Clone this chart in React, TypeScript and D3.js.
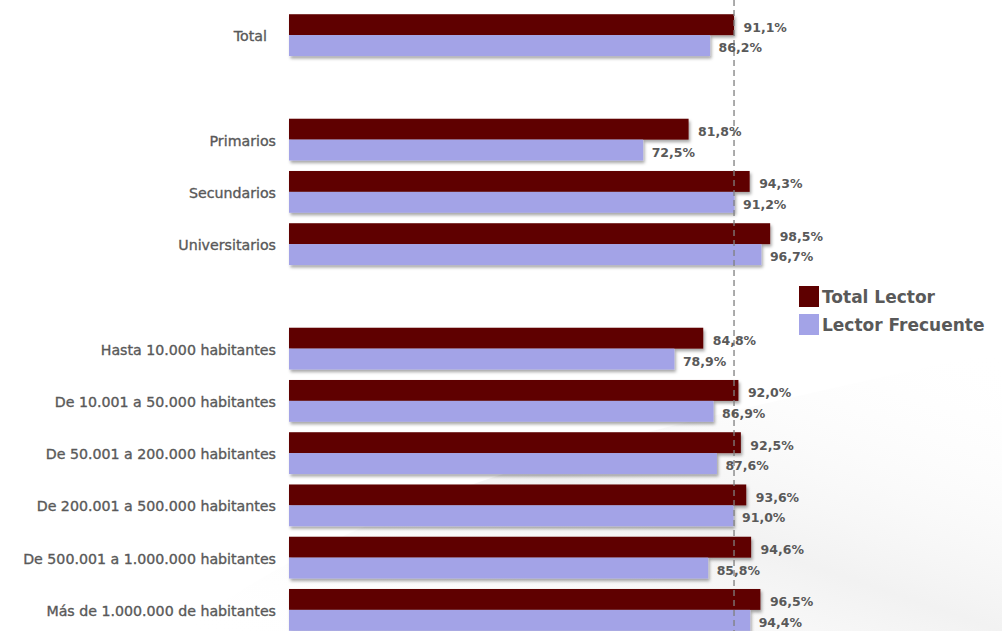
import * as React from "react";
import { scaleBand, scaleLinear } from "d3";

const categories = [
  "Total",
  "Primarios",
  "Secundarios",
  "Universitarios",
  "Hasta 10.000 habitantes",
  "De 10.001 a 50.000 habitantes",
  "De 50.001 a 200.000 habitantes",
  "De 200.001 a 500.000 habitantes",
  "De 500.001 a 1.000.000 habitantes",
  "Más de 1.000.000 de habitantes",
];
const totalLector = [91.1, 81.8, 94.3, 98.5, 84.8, 92.0, 92.5, 93.6, 94.6, 96.5];
const lectorFrecuente = [86.2, 72.5, 91.2, 96.7, 78.9, 86.9, 87.6, 91.0, 85.8, 94.4];
const seriesNames = ["Total Lector", "Lector Frecuente"];
// row order with empty slots between the groups
const slots = [
  "Total",
  "_gap1",
  "Primarios",
  "Secundarios",
  "Universitarios",
  "_gap2",
  "Hasta 10.000 habitantes",
  "De 10.001 a 50.000 habitantes",
  "De 50.001 a 200.000 habitantes",
  "De 200.001 a 500.000 habitantes",
  "De 500.001 a 1.000.000 habitantes",
  "Más de 1.000.000 de habitantes",
];

const W = 1002;
const H = 631;
const DARK = "#5e0000";
const LIGHT = "#a3a3e7";
const TEXT = "#595959";
const FONT = "'DejaVu Sans', sans-serif";

const fmt = (v: number) => v.toFixed(1).replace(".", ",") + "%";

export default function App() {
  const x = scaleLinear().domain([0, 100]).range([289, 777.5]);
  const y = scaleBand<string>().domain(slots).range([9, 636]).padding(0);
  const bw = y.bandwidth();
  const barH = bw * 0.4;
  const refX = x(totalLector[0]);

  return (
    <div style={{ position: "absolute", left: 0, top: 0 }}>
      <svg width={W} height={H} style={{ display: "block", fontFamily: FONT }}>
        <defs>
          <filter id="shadow" x="-5%" y="-20%" width="110%" height="160%">
            <feDropShadow dx="1.5" dy="2.5" stdDeviation="1.5" floodColor="#000" floodOpacity="0.35" />
          </filter>
          <linearGradient id="bg" x1="0" y1="1" x2="1" y2="0">
            <stop offset="0" stopColor="#ffffff" stopOpacity="0" />
            <stop offset="0.5" stopColor="#e9e9e9" stopOpacity="0.6" />
            <stop offset="1" stopColor="#ffffff" stopOpacity="0" />
          </linearGradient>
        </defs>
        <rect width={W} height={H} fill="#fff" />
        <path d={`M180,${H} C400,470 700,420 1002,350 L1002,${H} Z`} fill="url(#bg)" />

        {categories.map((c, i) => {
          const y0 = (y(c) ?? 0) + bw * 0.1;
          const xd = x(totalLector[i]);
          const xl = x(lectorFrecuente[i]);
          return (
            <g key={c}>
              <g filter="url(#shadow)">
                <rect x={x(0)} y={y0} width={xd - x(0)} height={barH} fill={DARK} />
                <rect x={x(0)} y={y0 + barH} width={xl - x(0)} height={barH} fill={LIGHT} />
              </g>
              <text
                x={276}
                y={y0 + barH + 6}
                textAnchor="end"
                fontSize={14.2}
                fill={TEXT}
                stroke={TEXT}
                strokeWidth={0.35}
                style={{ whiteSpace: "pre" }}
              >
                {i === 0 ? c + "  " : c}
              </text>
            </g>
          );
        })}

        <line x1={refX} x2={refX} y1={0} y2={H} stroke="#7f7f7f" strokeWidth={1.3} strokeDasharray="6,4" />

        {categories.map((c, i) => {
          const y0 = (y(c) ?? 0) + bw * 0.1;
          return (
            <g key={c + "-lab"} fontSize={12.5} fontWeight="bold" fill={TEXT}>
              <text x={x(totalLector[i]) + 9.5} y={y0 + barH / 2 + 7}>
                {fmt(totalLector[i])}
              </text>
              <text x={x(lectorFrecuente[i]) + 8.5} y={y0 + barH * 1.5 + 6.5}>
                {fmt(lectorFrecuente[i])}
              </text>
            </g>
          );
        })}

        <g>
          {seriesNames.map((s, i) => (
            <g key={s} transform={`translate(799,${286 + i * 28})`}>
              <rect width={20} height={21} fill={i === 0 ? DARK : LIGHT} />
              <text x={23} y={17} fontSize={17} fontWeight="bold" fill={TEXT}>
                {s}
              </text>
            </g>
          ))}
        </g>
      </svg>
    </div>
  );
}
